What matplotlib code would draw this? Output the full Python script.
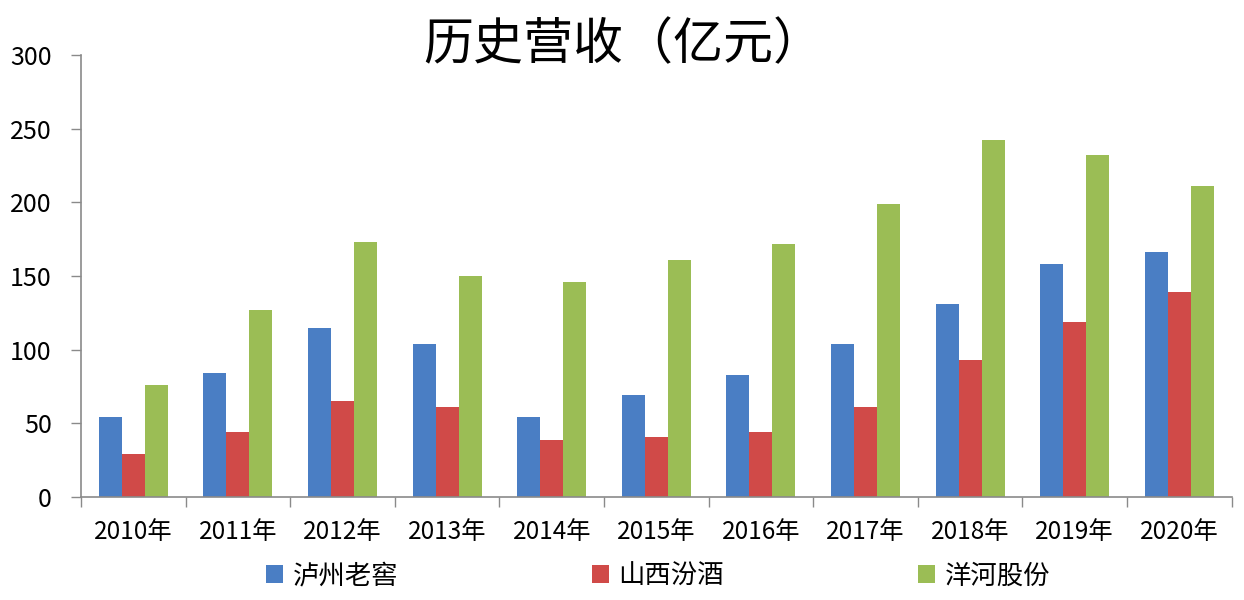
import numpy as np
import matplotlib
matplotlib.use("Agg")
import matplotlib.pyplot as plt
from matplotlib.patches import Patch

plt.rcParams['font.family'] = ['Noto Sans CJK SC', 'DejaVu Sans']

# data (亿元)
years = ["2010年", "2011年", "2012年", "2013年", "2014年", "2015年",
         "2016年", "2017年", "2018年", "2019年", "2020年"]
series_names = ["泸州老窖", "山西汾酒", "洋河股份"]
luzhou = [54, 84, 115, 104, 54, 69, 83, 104, 131, 158, 166]
fenjiu = [29, 44, 65, 61, 39, 41, 44, 61, 93, 119, 139]
yanghe = [76, 127, 173, 150, 146, 161, 172, 199, 242, 232, 211]
yticks = [0, 50, 100, 150, 200, 250, 300]

colors = ["#4A7EC4", "#D04A48", "#9BBD55"]
axis_color = "#8A8A8A"

fig = plt.figure(figsize=(12.44, 6), dpi=100)
ax = fig.add_axes([0.0651, 0.1717, 0.925, 0.7366])

x = np.arange(len(years))
w = 0.22

for i, (vals, name) in enumerate(zip([luzhou, fenjiu, yanghe], series_names)):
    ax.bar(x + (i - 1) * w, vals, width=w, color=colors[i], label=name)

ax.set_xlim(-0.5, len(years) - 0.5)
ax.set_ylim(0, 300)
ax.set_yticks(yticks)
ax.set_yticklabels([str(t) for t in yticks], fontsize=18)

# labels at the centres, ticks at the category boundaries
ax.set_xticks(x)
ax.set_xticklabels(years, fontsize=17.5)
ax.set_xticks(np.arange(len(years) + 1) - 0.5, minor=True)
ax.tick_params(axis='x', which='major', length=0, pad=16)
ax.tick_params(axis='x', which='minor', length=7, width=1, color=axis_color, direction='out')
ax.tick_params(axis='y', length=7, width=1, color=axis_color, direction='out', pad=14)

for side in ['top', 'right']:
    ax.spines[side].set_visible(False)
for side in ['left', 'bottom']:
    ax.spines[side].set_color(axis_color)
    ax.spines[side].set_linewidth(1.2)

fig.text(0.501, 0.925, "历史营收（亿元）", ha='center', va='center',
         fontsize=36, fontweight='medium')

handles = [Patch(facecolor=c, edgecolor='none') for c in colors]
fig.legend(handles, series_names, loc='center', bbox_to_anchor=(0.529, 0.04),
           ncol=3, frameon=False, fontsize=19, handlelength=0.65,
           handleheight=0.65, handletextpad=0.35, columnspacing=7.35)

fig.savefig("out.png", dpi=100, facecolor='white')
plt.close(fig)
